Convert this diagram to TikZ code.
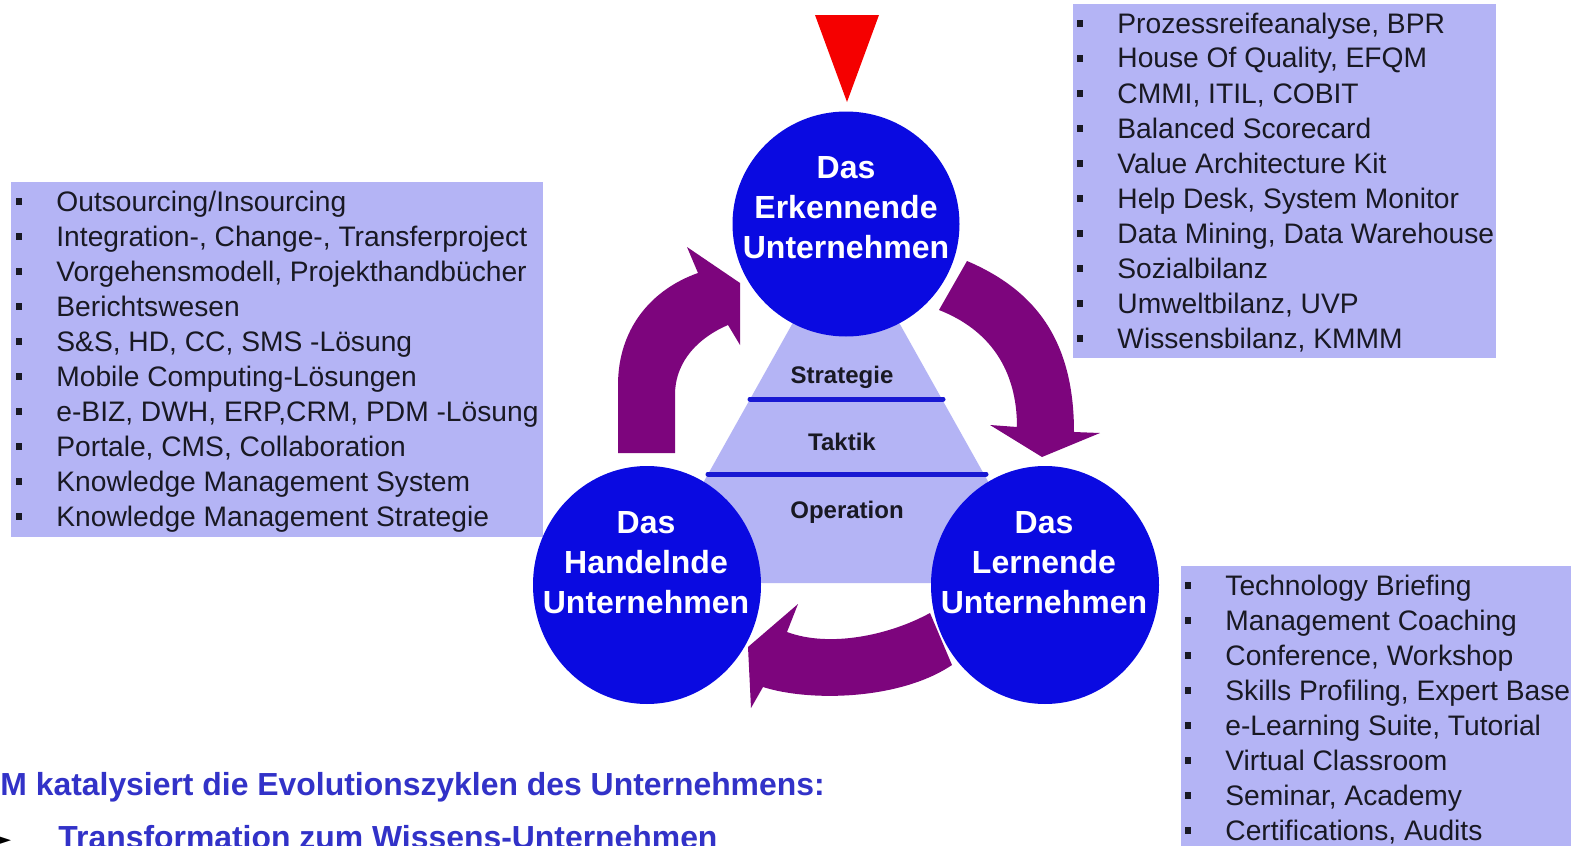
\documentclass[tikz,border=0pt]{standalone}
\usepackage{fontspec}
\setmainfont{Liberation Sans}
\newfontfamily\symfont{DejaVu Sans}
\usetikzlibrary{shapes.geometric}

\definecolor{lav}{RGB}{180,180,245}
\definecolor{cblue}{RGB}{10,10,225}
\definecolor{lineblue}{RGB}{25,25,210}
\definecolor{purp}{RGB}{125,5,125}
\definecolor{txt}{RGB}{25,25,35}
\definecolor{titleblue}{RGB}{50,50,200}
\definecolor{signal}{RGB}{245,0,0}

\begin{document}
\begin{tikzpicture}[x=0.5pt,y=-0.5pt,
  listbox/.style={fill=lav, draw=none},
  litem/.style={anchor=base west, inner sep=0pt, text=txt, font=\fontsize{14.1}{17}\selectfont},
  bulletsq/.style={fill=txt},
  cyc/.style={ellipse, fill=cblue, draw=none, inner sep=0pt},
  ctext/.style={anchor=base, inner sep=0pt, text=white, font=\fontsize{16}{20}\selectfont\bfseries},
  lvl/.style={anchor=base, inner sep=0pt, text=txt, font=\fontsize{12}{14}\selectfont\bfseries},
  lvline/.style={draw=lineblue, line width=2.5pt, line cap=round},
  arr/.style={fill=purp, draw=none},
  title/.style={anchor=base west, inner sep=0pt, text=titleblue, font=\fontsize{15.95}{18}\selectfont\bfseries},
]
\clip (0,0) rectangle (1571,846);
\fill[white] (0,0) rectangle (1571,846);

% list boxes
\path[listbox] (11,182) rectangle (543,537);
\path[listbox] (1073,4) rectangle (1496,358);
\path[listbox] (1181,566) rectangle (1580,860);

% left list
\foreach \t [count=\i from 0] in {Outsourcing/Insourcing,
  {Integration-, Change-, Transferproject},
  {Vorgehensmodell, Projekthandbücher},
  Berichtswesen,
  {S\&S, HD, CC, SMS -Lösung},
  Mobile Computing-Lösungen,
  {e-BIZ, DWH, ERP,CRM, PDM -Lösung},
  {Portale, CMS, Collaboration},
  Knowledge Management System,
  Knowledge Management Strategie}{
  \fill[bulletsq] (16,{198+35*\i}) rectangle (22,{205+35*\i});
  \node[litem] (l\i) at (56,{211+35*\i}) {\t};
}

% top right list
\foreach \t [count=\i from 0] in {{Prozessreifeanalyse, BPR},
  {House Of Quality, EFQM},
  {CMMI, ITIL, COBIT},
  Balanced Scorecard,
  Value Architecture Kit,
  {Help Desk, System Monitor},
  {Data Mining, Data Warehouse},
  Sozialbilanz,
  {Umweltbilanz, UVP},
  {Wissensbilanz, KMMM}}{
  \fill[bulletsq] (1077,{20+35*\i}) rectangle (1083,{27+35*\i});
  \node[litem] (r\i) at (1117,{33+35*\i}) {\t};
}

% bottom right list
\foreach \t [count=\i from 0] in {Technology Briefing,
  Management Coaching,
  {Conference, Workshop},
  {Skills Profiling, Expert Base},
  {e-Learning Suite, Tutorial},
  Virtual Classroom,
  {Seminar, Academy},
  {Certifications, Audits}}{
  \fill[bulletsq] (1185,{582+35*\i}) rectangle (1191,{589+35*\i});
  \node[litem] (b\i) at (1225,{595+35*\i}) {\t};
}

% pyramid
\fill[lav] (846,228) -- (647,583) -- (1045,583) -- cycle;
\draw[lvline] (750,399) -- (943,399);
\draw[lvline] (708,474) -- (986,474);
\node[lvl] (strat) at (842,383) {Strategie};
\node[lvl] (takt) at (842,450) {Taktik};
\node[lvl] (oper) at (847,518) {Operation};

% arrows
\path[arr] (618,453) -- (618,385) .. controls (618,330) and (650,290) .. (698,273)
  -- (687,247) -- (740,283) -- (740,345) -- (728,325)
  .. controls (700,337) and (675,360) .. (675,395) -- (675,453) -- cycle;
\path[arr] (967,261) .. controls (1035,290) and (1074,340) .. (1074,432)
  -- (1100,433) -- (1042,457) -- (990,425) -- (1017,427)
  .. controls (1017,370) and (990,330) .. (939,310) -- cycle;
\path[arr] (930,613) .. controls (890,635) and (830,648) .. (787,632)
  -- (798,604) -- (748,647) -- (751,708) -- (763,687)
  .. controls (810,702) and (900,700) .. (952,665) -- cycle;

% red marker
\fill[signal] (815,15) -- (879,15) -- (847,102) -- cycle;

% circles
\node[cyc, minimum width=113.5pt, minimum height=112.5pt] (ek) at (846,224) {};
\node[cyc, minimum width=114pt, minimum height=119pt] (hu) at (647,585) {};
\node[cyc, minimum width=114pt, minimum height=119pt] (lu) at (1045,585) {};

\node[ctext] (ek1) at (846,178) {Das};
\node[ctext] (ek2) at (846,218) {Erkennende};
\node[ctext] (ek3) at (846,258) {Unternehmen};
\node[ctext] (hu1) at (646,533) {Das};
\node[ctext] (hu2) at (646,573) {Handelnde};
\node[ctext] (hu3) at (646,613) {Unternehmen};
\node[ctext] (lu1) at (1044,533) {Das};
\node[ctext] (lu2) at (1044,573) {Lernende};
\node[ctext] (lu3) at (1044,613) {Unternehmen};

% bottom text
\node[title] (km) at (0,795) {M katalysiert die Evolutionszyklen des Unternehmens:};
\node[anchor=base east, inner sep=0pt, font=\symfont\fontsize{15}{18}\selectfont] (pt) at (12,848) {►};
\node[title] (tr) at (58,848) {Transformation zum Wissens-Unternehmen};
\end{tikzpicture}
\end{document}
